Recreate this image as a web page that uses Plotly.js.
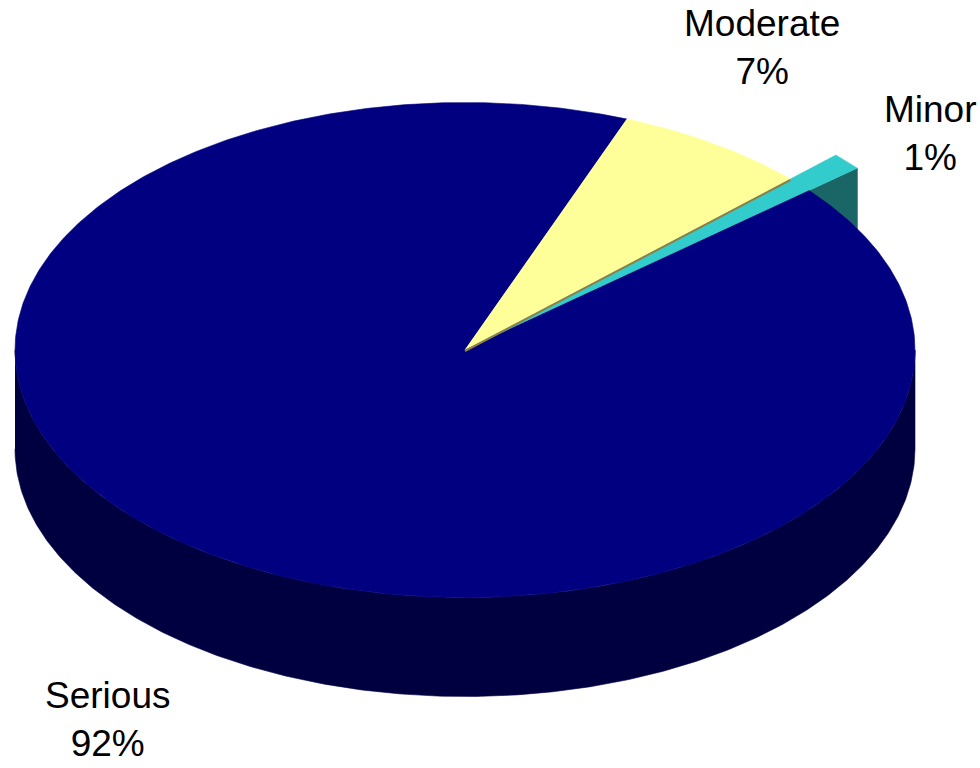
<!DOCTYPE html>
<html><head><meta charset="utf-8">
<script src="https://cdn.plot.ly/plotly-3.0.1.min.js"></script>
<style>html,body{margin:0;padding:0;background:#fff}</style>
</head><body><div id="chart" style="width:980px;height:768px"></div>
<script>
// ---- data ----
const labels = ['Serious', 'Moderate', 'Minor'];
const values = [92, 7, 1];

// ---- style ----
const topColors  = ['#000080', '#FFFF99', '#33CCCC'];
const sideColors = ['#000040', '#8C8048', '#1A6666'];
const radialScale = [1, 1, 1.14];            // exploded look of the small slice
const geo = {cx: 465, cy: 350, rx: 450, ry: 247.5, depth: 99, start: 40.1};
const labelPos = [{x: 107, y: 719}, {x: 762, y: 47}, {x: 930, y: 133}];

const total = values.reduce((a, b) => a + b, 0);
const rad = d => d * Math.PI / 180;
function P(theta, r, dz) {
  return [geo.cx + geo.rx * r * Math.cos(rad(theta)),
          geo.cy - geo.ry * r * Math.sin(rad(theta)) + dz];
}
function poly(pts, color, lw, lc) {
  return {type: 'scatter', mode: 'lines', x: pts.map(p => p[0]), y: pts.map(p => p[1]),
          fill: 'toself', fillcolor: color, line: {color: lc || color, width: lw === undefined ? 0.6 : lw},
          hoverinfo: 'skip', showlegend: false};
}

// slice angles (clockwise, math degrees)
const slices = [];
let a = geo.start;
values.forEach((v, i) => {
  const a1 = a, a2 = a - v / total * 360;
  slices.push({a1, a2, i});
  a = a2;
});

const traces = [];
// side walls (front half: angles 180..360 mod 360)
slices.forEach(s => {
  let lo = s.a2, hi = s.a1;
  while (lo < 0) { lo += 360; hi += 360; }
  const ranges = [[180, 360], [540, 720]];
  ranges.forEach(([f0, f1]) => {
    const l = Math.max(lo, f0), h = Math.min(hi, f1);
    if (h > l) {
      const r = radialScale[s.i];
      const pts = [];
      const n = Math.max(2, Math.ceil((h - l) / 0.5));
      for (let k = 0; k <= n; k++) pts.push(P(l + (h - l) * k / n, r, 0));
      for (let k = n; k >= 0; k--) pts.push(P(l + (h - l) * k / n, r, geo.depth));
      traces.push(poly(pts, sideColors[s.i]));
    }
  });
});
// radial face of the small exploded slice (clockwise edge)
const sm = slices[2];
traces.push(poly([P(sm.a2, 0, 0), P(sm.a2, radialScale[2], 0), P(sm.a2, radialScale[2], geo.depth), P(sm.a2, 0, geo.depth)], sideColors[2]));
// top faces: small slice first, then the others
[2, 0, 1].forEach(idx => {
  const s = slices[idx];
  const r = radialScale[idx];
  const pts = [P(0, 0, 0)];
  const n = Math.max(2, Math.ceil((s.a1 - s.a2) / 0.5));
  for (let k = 0; k <= n; k++) pts.push(P(s.a1 - (s.a1 - s.a2) * k / n, r, 0));
  traces.push(poly(pts, topColors[idx]));
});
// thin visible radial face of the Moderate slice
const md = slices[1];
traces.push({type: 'scatter', mode: 'lines', x: [P(md.a2, 0, 0)[0], P(md.a2, 1, 0)[0]],
             y: [P(md.a2, 0, 0)[1] + 1, P(md.a2, 1, 0)[1] + 1],
             line: {color: sideColors[1], width: 2}, hoverinfo: 'skip', showlegend: false});

const annotations = labels.map((l, i) => ({
  x: labelPos[i].x, y: labelPos[i].y, xref: 'x', yref: 'y',
  text: l + '<br>' + Math.round(values[i] / total * 100) + '%',
  showarrow: false, xanchor: 'center', yanchor: 'middle', align: 'center', borderpad: 0,
  font: {family: 'Liberation Sans, Arial, sans-serif', size: 37, color: '#000'}
}));

Plotly.newPlot('chart', traces, {
  width: 980, height: 768,
  margin: {l: 0, r: 0, t: 0, b: 0},
  paper_bgcolor: '#fff', plot_bgcolor: '#fff',
  xaxis: {range: [0, 980], visible: false, fixedrange: true},
  yaxis: {range: [768, 0], visible: false, fixedrange: true},
  showlegend: false,
  annotations
}, {displayModeBar: false, staticPlot: true});
</script></body></html>
